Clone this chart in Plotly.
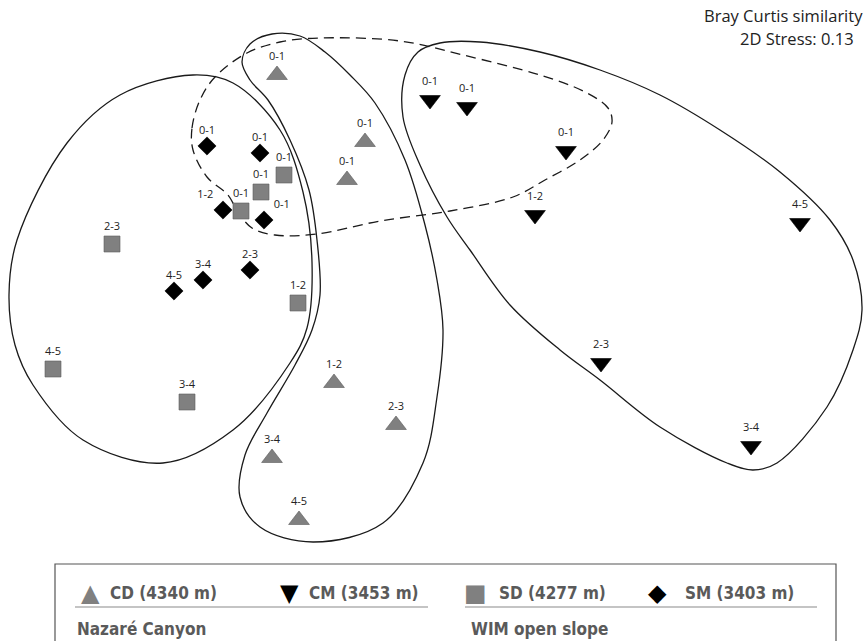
import plotly.graph_objects as go

# nMDS ordination scores (Bray-Curtis similarity), one point per sediment layer (cm)
cd_x = [-1.56, -0.68, -0.86, -0.99, -0.37, -1.61, -1.34]
cd_y = [2.45, 1.78, 1.40, -0.63, -1.05, -1.38, -2.00]
cd_layer = ["0-1", "0-1", "0-1", "1-2", "2-3", "3-4", "4-5"]

cm_x = [-0.03, 0.34, 1.33, 1.02, 3.67, 1.68, 3.18]
cm_y = [2.20, 2.13, 1.69, 1.05, 0.97, -0.43, -1.26]
cm_layer = ["0-1", "0-1", "0-1", "1-2", "4-5", "2-3", "3-4"]

sd_x = [-1.49, -1.72, -1.92, -1.35, -3.21, -2.46, -3.80]
sd_y = [1.45, 1.28, 1.09, 0.17, 0.76, -0.82, -0.49]
sd_layer = ["0-1", "0-1", "0-1", "1-2", "2-3", "3-4", "4-5"]

sm_x = [-2.26, -1.73, -1.69, -2.10, -1.83, -2.30, -2.59]
sm_y = [1.74, 1.67, 1.00, 1.10, 0.50, 0.40, 0.29]
sm_layer = ["0-1", "0-1", "0-1", "1-2", "2-3", "3-4", "4-5"]

stations = ["CD (4340 m)", "CM (3453 m)", "SD (4277 m)", "SM (3403 m)"]
regions = ["Nazaré Canyon", "WIM open slope"]
stress = 0.13

# Group outlines (ordination units)
outline_sd_sm = [(-2.40, 2.45), (-2.00, 2.37), (-1.53, 1.90), (-1.30, 1.28), (-1.21, 0.58),
                 (-1.26, -0.08), (-1.43, -0.43), (-2.00, -1.10), (-2.70, -1.43), (-3.50, -1.20),
                 (-4.00, -0.65), (-4.18, -0.25), (-4.24, 0.25), (-4.16, 0.80), (-3.66, 1.77),
                 (-3.13, 2.25)]
outline_cd = [(-1.65, 2.20), (-1.83, 2.40), (-1.91, 2.58), (-1.83, 2.76), (-1.61, 2.86),
              (-1.33, 2.84), (-1.08, 2.68), (-0.83, 2.45), (-0.58, 2.17), (-0.28, 1.60),
              (-0.08, 0.95), (0.04, 0.40), (0.10, -0.10), (0.04, -0.77), (-0.10, -1.43),
              (-0.50, -2.03), (-1.20, -2.22), (-1.73, -2.07), (-1.93, -1.77), (-1.88, -1.35),
              (-1.66, -0.93), (-1.38, -0.45), (-1.21, -0.10), (-1.13, 0.25), (-1.16, 0.80),
              (-1.24, 1.30), (-1.43, 1.80)]
outline_cm = [(-0.30, 2.03), (-0.28, 2.45), (-0.15, 2.68), (0.07, 2.77), (0.47, 2.78),
              (1.07, 2.68), (1.67, 2.50), (2.27, 2.25), (2.87, 1.90), (3.47, 1.48),
              (3.97, 1.00), (4.20, 0.60), (4.29, 0.10), (4.20, -0.30), (3.94, -0.87),
              (3.44, -1.43), (3.20, -1.50), (2.94, -1.43), (2.27, -1.07), (1.67, -0.60),
              (1.27, -0.30), (0.77, 0.15), (0.37, 0.70), (0.14, 1.03), (-0.13, 1.55)]
outline_surface = [(-2.40, 1.70), (-2.41, 1.92), (-2.33, 2.20), (-2.18, 2.43), (-1.86, 2.67),
                   (-1.53, 2.78), (-1.13, 2.82), (-0.33, 2.79), (0.30, 2.65), (1.07, 2.45),
                   (1.52, 2.28), (1.75, 2.12), (1.79, 1.98), (1.70, 1.80), (1.47, 1.60),
                   (1.12, 1.40), (0.80, 1.23), (0.17, 1.09), (-0.53, 0.99), (-1.16, 0.86),
                   (-1.58, 0.85), (-1.81, 0.92), (-1.95, 1.08), (-2.05, 1.25), (-2.26, 1.43)]

W, H = 866, 641
GREY = "#808080"
INK = "#1a1a1a"

fig = go.Figure()


def add_outline(pts, dash=None):
    xs = [p[0] for p in pts] + [pts[0][0]]
    ys = [p[1] for p in pts] + [pts[0][1]]
    fig.add_trace(go.Scatter(
        x=xs, y=ys, mode="lines", hoverinfo="skip", showlegend=False,
        line=dict(color=INK, width=1.3, shape="spline", smoothing=1.0, dash=dash)))


add_outline(outline_sd_sm)
add_outline(outline_cd)
add_outline(outline_cm)
add_outline(outline_surface, dash="10px,6px")

label_font = dict(family="'Open Sans', Lato, sans-serif", size=11, color="#222222")


def add_station(xs, ys, labels, symbol, size, color, name, positions=None):
    fig.add_trace(go.Scatter(
        x=xs, y=ys, mode="markers+text", name=name, showlegend=False,
        text=labels, textposition=positions or "top center", textfont=label_font,
        marker=dict(symbol=symbol, size=size, color=color,
                    line=dict(width=0.6, color="#5a5a5a" if color != "black" else "black"))))


add_station(cd_x, cd_y, cd_layer, "triangle-up", 18, GREY, stations[0])
add_station(cm_x, cm_y, cm_layer, "triangle-down", 18, "black", stations[1])
add_station(sd_x, sd_y, sd_layer, "square", 16, GREY, stations[2])
add_station(sm_x, sm_y, sm_layer, "diamond", 14, "black", stations[3],
            positions=["top center", "top center", "top right", "top left",
                       "top center", "top center", "top center"])


def px(x):
    return x / W


def py(y):
    return 1 - y / H


annotations = [
    dict(text="Bray Curtis similarity", x=px(864), y=py(15), xanchor="right", yanchor="middle"),
    dict(text=f"2D Stress: {stress:.2f}", x=px(855), y=py(38), xanchor="right", yanchor="middle"),
]
for a in annotations:
    a.update(xref="paper", yref="paper", showarrow=False, borderpad=0,
             font=dict(family="'Open Sans', Lato, sans-serif", size=16.5, color="#222222"))

# Key box
legend_font = dict(family="'DejaVu Sans Condensed', 'Liberation Sans', sans-serif",
                   size=17, color="#5a5a5a")
glyphs = [("\u25B2", GREY), ("\u25BC", "black"), ("\u25A0", GREY), ("\u25C6", "black")]
glyph_x = [90, 289, 475, 657]
text_x = [108, 307, 497, 683]
row1_y, sep_y, row2_y = 593, 607, 629
for (g, c), gx, tx, lab in zip(glyphs, glyph_x, text_x, stations):
    annotations.append(dict(text=g, x=px(gx), y=py(row1_y), xref="paper", yref="paper",
                            xanchor="center", yanchor="middle", showarrow=False,
                            font=dict(family="DejaVu Sans", size=24, color=c)))
    annotations.append(dict(text=f"<b>{lab}</b>", x=px(tx), y=py(row1_y), xref="paper",
                            yref="paper", xanchor="left", yanchor="middle",
                            showarrow=False, font=legend_font))
for rx, lab in zip([75, 469], regions):
    annotations.append(dict(text=f"<b>{lab}</b>", x=px(rx), y=py(row2_y), xref="paper",
                            yref="paper", xanchor="left", yanchor="middle",
                            showarrow=False, font=legend_font))

shapes = [
    dict(type="rect", xref="paper", yref="paper", x0=px(55), x1=px(836), y0=py(564), y1=py(700),
         line=dict(color="#555555", width=1.2), fillcolor="rgba(0,0,0,0)", layer="below"),
    dict(type="line", xref="paper", yref="paper", x0=px(75), x1=px(428), y0=py(sep_y), y1=py(sep_y),
         line=dict(color="#8a8a8a", width=1.2)),
    dict(type="line", xref="paper", yref="paper", x0=px(465), x1=px(817), y0=py(sep_y), y1=py(sep_y),
         line=dict(color="#8a8a8a", width=1.2)),
]

fig.update_layout(
    width=W, height=H, margin=dict(l=0, r=0, t=0, b=0),
    paper_bgcolor="white", plot_bgcolor="white",
    xaxis=dict(range=[-4.33, 4.33], visible=False, fixedrange=True),
    yaxis=dict(range=[-3.21, 3.20], visible=False, fixedrange=True),
    annotations=annotations, shapes=shapes, showlegend=False,
)

fig.write_html("out.html")
